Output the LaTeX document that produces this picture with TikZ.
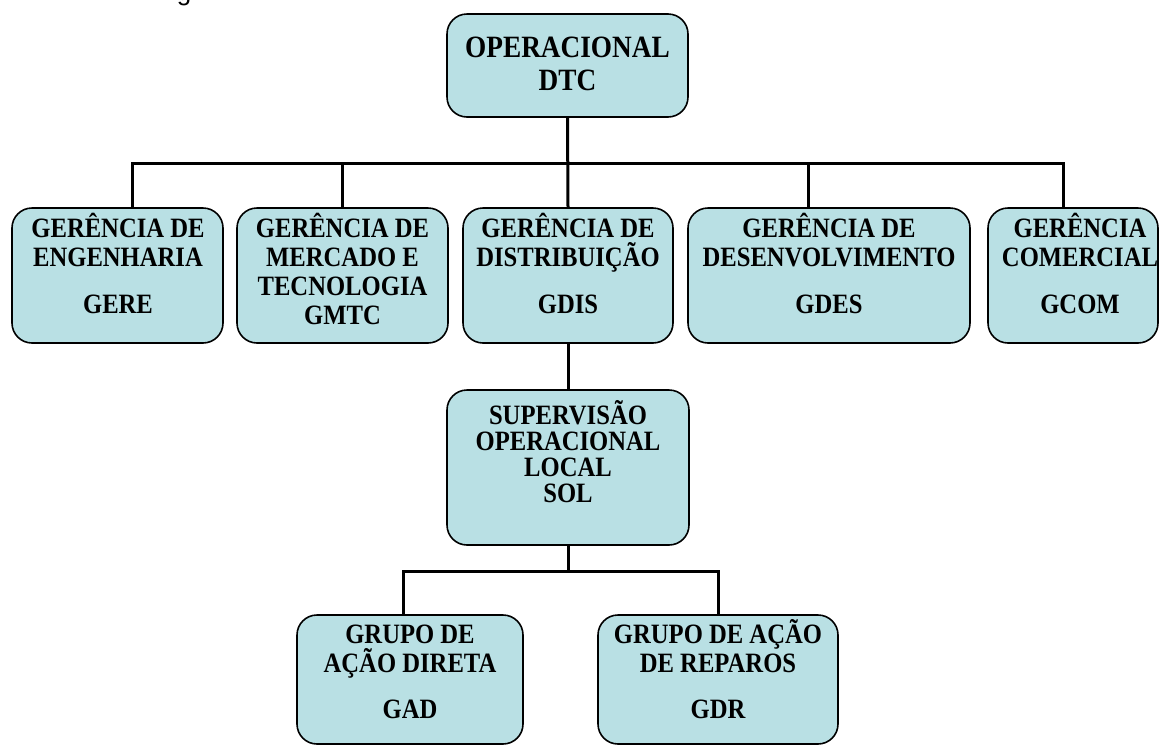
\documentclass[tikz,border=0pt]{standalone}
\usepackage{fontspec}
\setmainfont{Liberation Serif}[FakeStretch=0.88]
\newfontfamily\capfont{Liberation Sans}
\definecolor{boxfill}{RGB}{185,224,228}
\newcommand\orglines[1]{\begin{tabular}[t]{@{}c@{}}#1\end{tabular}}
\tikzset{
  orgbox/.style={draw=black, line width=1.6pt, fill=boxfill, rounded corners=20pt, inner sep=0pt},
  orgtxt/.style={anchor=base, inner sep=0pt, font=\bfseries\fontsize{28}{29.3}\selectfont},
  bigtxt/.style={anchor=base, inner sep=0pt, font=\bfseries\fontsize{31}{33}\selectfont},
  soltxt/.style={anchor=base, inner sep=0pt, font=\bfseries\fontsize{28}{26}\selectfont},
  conn/.style={line width=3pt, line join=miter}
}
\begin{document}
\begin{tikzpicture}[x=1pt, y=-1pt]
\useasboundingbox (0,0) rectangle (1159,745);
% cut-off caption fragment
\node[anchor=base, inner sep=0pt, font=\capfont\fontsize{26}{30}\selectfont] (frag) at (184,0) {g};

% boxes
\node[orgbox, minimum width=241pt, minimum height=103pt] (dtc)  at (567.5,65.5) {};
\node[orgbox, minimum width=211pt, minimum height=135pt] (gere) at (117.5,275.5) {};
\node[orgbox, minimum width=211pt, minimum height=135pt] (gmtc) at (342.5,275.5) {};
\node[orgbox, minimum width=210pt, minimum height=135pt] (gdis) at (568,275.5) {};
\node[orgbox, minimum width=282pt, minimum height=135pt] (gdes) at (829,275.5) {};
\node[orgbox, minimum width=170pt, minimum height=135pt] (gcom) at (1073,275.5) {};
\node[orgbox, minimum width=242pt, minimum height=155pt] (sol)  at (568,467.5) {};
\node[orgbox, minimum width=226pt, minimum height=129pt] (gad)  at (410,679.5) {};
\node[orgbox, minimum width=240pt, minimum height=129pt] (gdr)  at (718,679.5) {};

% texts
\node[bigtxt] (dtc-t) at (567.5,57) {\orglines{\smash{OPERACIONAL}\\\smash{DTC}}};
\node[orgtxt] (gere-t) at (118,237) {\orglines{\smash{GERÊNCIA DE}\\\smash{ENGENHARIA}\\[17.4pt]\smash{GERE}}};
\node[orgtxt] (gmtc-t) at (342.5,237) {\orglines{\smash{GERÊNCIA DE}\\\smash{MERCADO E}\\\smash{TECNOLOGIA}\\\smash{GMTC}}};
\node[orgtxt] (gdis-t) at (568,237) {\orglines{\smash{GERÊNCIA DE}\\\smash{DISTRIBUIÇÃO}\\[17.4pt]\smash{GDIS}}};
\node[orgtxt] (gdes-t) at (829,237) {\orglines{\smash{GERÊNCIA DE}\\\smash{DESENVOLVIMENTO}\\[17.4pt]\smash{GDES}}};
\node[orgtxt] (gcom-t) at (1080,237) {\orglines{\smash{GERÊNCIA}\\\smash{COMERCIAL}\\[17.4pt]\smash{GCOM}}};
\node[soltxt] (sol-t) at (568,424) {\orglines{\smash{SUPERVISÃO}\\\smash{OPERACIONAL}\\\smash{LOCAL}\\\smash{SOL}}};
\node[orgtxt] (gad-t) at (410,643) {\orglines{\smash{GRUPO DE}\\\smash{AÇÃO DIRETA}\\[17pt]\smash{GAD}}};
\node[orgtxt] (gdr-t) at (718,643) {\orglines{\smash{GRUPO DE AÇÃO}\\\smash{DE REPAROS}\\[17pt]\smash{GDR}}};

% connectors
\coordinate (busL) at (132,163);
\coordinate (busR) at (1063,163);
\coordinate (busD) at (808,163);
\coordinate (barL) at (403,571);
\draw[conn] (busL |- gere.north) -- (busL) -- (busR) -- (busR |- gcom.north);
\draw[conn] (dtc.south) -- (gdis.north);
\draw[conn] (gmtc.north |- busL) -- (gmtc.north);
\draw[conn] (busD) -- (busD |- gdes.north);
\draw[conn] (gdis.south) -- (sol.north);
\draw[conn] (sol.south) -- (sol.south |- barL);
\draw[conn] (barL |- gad.north) -- (barL) -- (gdr.north |- barL) -- (gdr.north);
\end{tikzpicture}
\end{document}
